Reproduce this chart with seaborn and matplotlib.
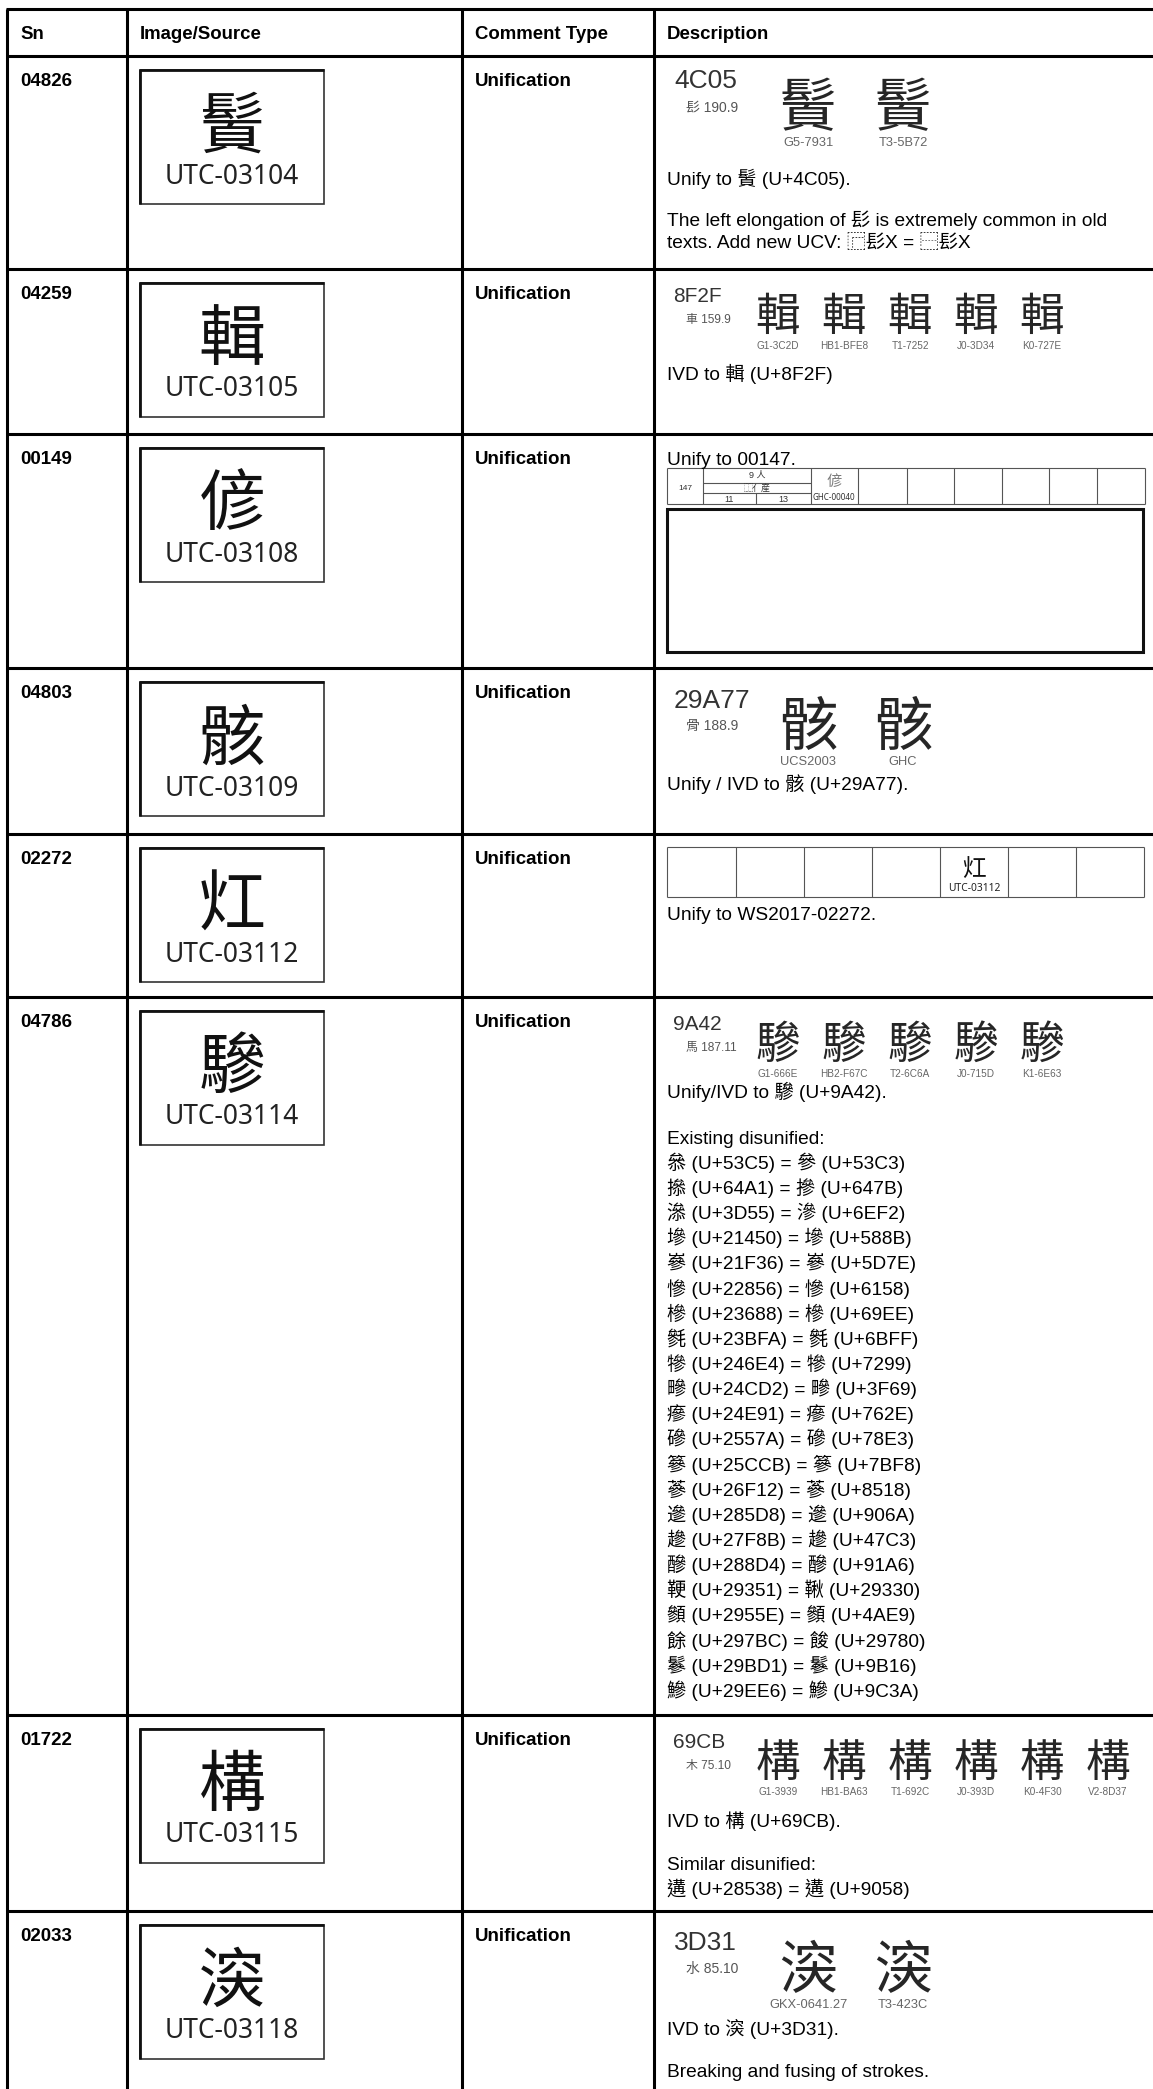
import matplotlib
matplotlib.use("Agg")
import matplotlib.pyplot as plt
from matplotlib import font_manager
from matplotlib.patches import Rectangle
import seaborn as sns
from fontTools.ttLib import TTFont

# --------- Datos de la tabla ---------
headers = ["Sn", "Image/Source", "Comment Type", "Description"]
sn = ["04826", "04259", "00149", "04803", "02272", "04786", "01722", "02033"]
utc_ids = ["UTC-03104", "UTC-03105", "UTC-03108", "UTC-03109",
           "UTC-03112", "UTC-03114", "UTC-03115", "UTC-03118"]
# closest encoded glyph for each submitted image
utc_chars = [0x4C05, 0x8F2F, 0x5050, 0x29A77, 0x7074, 0x9A42, 0x69CB, 0x3D31]
comment_type = ["Unification"] * 8

# evidence blocks (code chart excerpts) in the description column
ev_rows = [0, 1, 3, 5, 6, 7]
ev_codes = [0x4C05, 0x8F2F, 0x29A77, 0x9A42, 0x69CB, 0x3D31]
ev_radicals = ["髟 190.9", "車 159.9", "骨 188.9", "馬 187.11", "木 75.10", "水 85.10"]
ev_sources = [
    ["G5-7931", "T3-5B72"],
    ["G1-3C2D", "HB1-BFE8", "T1-7252", "J0-3D34", "K0-727E"],
    ["UCS2003", "GHC"],
    ["G1-666E", "HB2-F67C", "T2-6C6A", "J0-715D", "K1-6E63"],
    ["G1-3939", "HB1-BA63", "T1-692C", "J0-393D", "K0-4F30", "V2-8D37"],
    ["GKX-0641.27", "T3-423C"],
]

disunified_left = [0x53C5, 0x64A1, 0x3D55, 0x21450, 0x21F36, 0x22856, 0x23688, 0x23BFA,
                   0x246E4, 0x24CD2, 0x24E91, 0x2557A, 0x25CCB, 0x26F12, 0x285D8, 0x27F8B,
                   0x288D4, 0x29351, 0x2955E, 0x297BC, 0x29BD1, 0x29EE6]
disunified_right = [0x53C3, 0x647B, 0x6EF2, 0x588B, 0x5D7E, 0x6158, 0x69EE, 0x6BFF,
                    0x7299, 0x3F69, 0x762E, 0x78E3, 0x7BF8, 0x8518, 0x906A, 0x47C3,
                    0x91A6, 0x29330, 0x4AE9, 0x29780, 0x9B16, 0x9C3A]
similar_left, similar_right = [0x28538], [0x9058]

# row 3 (00149) and row 5 (02272) small grids
r3_cells = ["147", "9 人", "⿰亻産", "11", "13", "GHC-00040"]
r3_glyph = 0x5050
r5_glyph = 0x7074
r5_label = "UTC-03112"

# --------- Fuentes ---------
sns.set_theme(style="white")
LATIN = "Liberation Sans"
CJK = {"G": "Noto Sans CJK SC", "H": "Noto Sans CJK TC", "T": "Noto Sans CJK TC",
       "J": "Noto Sans CJK JP", "K": "Noto Sans CJK KR", "V": "Noto Sans CJK TC",
       "U": "Noto Sans CJK SC"}
BODY = [LATIN, "Noto Sans CJK TC", "DejaVu Sans"]
plt.rcParams["font.family"] = BODY
names = {f.name for f in font_manager.fontManager.ttflist}
NARROW = "Liberation Sans Narrow" if "Liberation Sans Narrow" in names else LATIN
NARROW_K = 1.0 if NARROW != LATIN else 0.84


def cmap_of(family):
    path = font_manager.findfont(font_manager.FontProperties(family=family))
    try:
        font = TTFont(path, fontNumber=0, lazy=True)
    except Exception:
        font = TTFont(path, lazy=True)
    return set(font.getBestCmap())


covered = cmap_of("Noto Sans CJK TC") | cmap_of(LATIN)
# look-alike stand-ins for glyphs the installed fonts lack
ALT = {0x29A77: 0x9AB8, 0x2FF8: 0x25A1, 0x2FF1: 0x25A1, 0x2FF0: 0x25A1,
       0x29351: 0x9795, 0x29330: 0x97A6, 0x297BC: 0x9918, 0x29780: 0x9915}


def glyph(cp, *alts):
    for c in (cp,) + ((ALT[cp],) if cp in ALT else ()) + alts:
        if c in covered:
            return chr(c)
    return "〓"


def fix(s):
    return "".join(ch if (ord(ch) in covered or ch in " ") else glyph(ord(ch)) for ch in s)


def pair_line(a, b):
    return f"{glyph(a, b)} (U+{a:X}) = {glyph(b, a)} (U+{b:X})"


desc_text = [
    [f"Unify to {chr(0x4C05)} (U+4C05).",
     "The left elongation of 髟 is extremely common in old",
     f"texts. Add new UCV: {chr(0x2FF8)}髟X = {chr(0x2FF1)}髟X"],
    ["IVD to 輯 (U+8F2F)"],
    ["Unify to 00147."],
    [f"Unify / IVD to {chr(0x29A77)} (U+29A77)."],
    ["Unify to WS2017-02272."],
    ["Unify/IVD to 驂 (U+9A42).", "Existing disunified:"]
    + [pair_line(a, b) for a, b in zip(disunified_left, disunified_right)],
    ["IVD to 構 (U+69CB).", "Similar disunified:"]
    + [pair_line(a, b) for a, b in zip(similar_left, similar_right)],
    [f"IVD to {chr(0x3D31)} (U+3D31).", "Breaking and fusing of strokes."],
]

# --------- Layout (pixels) ---------
W, H, DPI = 1153, 2089, 100
col_x = [7, 127, 462, 654]
table_top, header_bottom = 9, 56
row_tops = [56, 269, 434, 668, 834, 997, 1715, 1911]
desc_dy = [[122, 163, 185], [104], [24], [115], [79],
           [94, 140] + [165 + i * 25.14 for i in range(22)],
           [105, 148, 173], [117, 159]]
EV_BIG = dict(code_x=674, code_dy=30, code_size=19, rad_x=686, rad_dy=57, rad_size=10,
              x0=808, dx=95, glyph_dy=55, glyph_size=42, label_dy=92, label_size=11)
EV_SMALL = dict(code_x=673, code_dy=26, code_size=15, rad_x=686, rad_dy=50, rad_size=8.6,
                x0=778, dx=66, glyph_dy=44, glyph_size=32, label_dy=76, label_size=8.6)
EV_ROW_DY = {0: -7}

fig = plt.figure(figsize=(W / DPI, H / DPI), dpi=DPI)
ax = fig.add_axes([0, 0, 1, 1])
ax.set_xlim(0, W)
ax.set_ylim(H, 0)
ax.axis("off")


def put(x, yc, s, size, fams=None, ha="left", k=0.36, **kw):
    em = size * DPI / 72
    ax.text(x, yc + k * em, fix(s), fontsize=size, ha=ha, va="baseline",
            family=fams or BODY, **kw)


def evidence(i, top):
    lay = EV_BIG if len(ev_sources[i]) <= 2 else EV_SMALL
    put(lay["code_x"], top + lay["code_dy"], f"{ev_codes[i]:X}", lay["code_size"], color="#333333")
    put(lay["rad_x"], top + lay["rad_dy"], ev_radicals[i], lay["rad_size"], color="#555555")
    ch = glyph(ev_codes[i])
    for j, src in enumerate(ev_sources[i]):
        cx = lay["x0"] + j * lay["dx"]
        put(cx, top + lay["glyph_dy"], ch, lay["glyph_size"], fams=[CJK[src[0]]],
            ha="center", k=0.38, color="#262626")
        put(cx, top + lay["label_dy"], src, lay["label_size"] * NARROW_K, fams=[NARROW],
            ha="center", color="#666666")


# grid
GRID = dict(color="black", lw=2.2)
ax.vlines(col_x, table_top, H, **GRID)
ax.hlines([table_top, header_bottom] + row_tops[1:], col_x[0] - 1, W, **GRID)

for x, h in zip(col_x, headers):
    put(x + 13, 32, h, 13.4, weight="bold", color="black")

for r, top in enumerate(row_tops):
    put(20, top + 23, sn[r], 13.5, weight="bold", color="black")
    put(475, top + 23, comment_type[r], 13.5, weight="bold", color="black")
    # image box: heavier top/left edge like the scanned frames
    ax.add_patch(Rectangle((140, top + 14), 184, 134, fill=False, ec="#333333", lw=1.2))
    ax.plot([140, 140, 324], [top + 148, top + 14, top + 14], color="#111111", lw=2.0,
            solid_capstyle="butt")
    put(232, top + 66, glyph(utc_chars[r]), 48, fams=["Noto Sans CJK TC"], ha="center",
        k=0.38, color="#111111")
    put(232, top + 118, utc_ids[r], 19, fams=["Noto Sans"], ha="center", color="#222222")
    for s, dy in zip(desc_text[r], desc_dy[r]):
        put(667, top + dy, s, 13.8, color="black")

for i, r in enumerate(ev_rows):
    evidence(i, row_tops[r] + EV_ROW_DY.get(r, 0))

# row 3: radical-stroke grid and empty frame
t3 = row_tops[2]
THIN = dict(color="#555555", lw=0.8)
xs3 = [667, 703, 811, 858, 907, 954, 1002, 1049, 1097, 1145]
ax.vlines(xs3, t3 + 34, t3 + 70, **THIN)
ax.hlines([t3 + 34, t3 + 70], xs3[0], xs3[-1], **THIN)
ax.hlines([t3 + 49, t3 + 59], xs3[1], xs3[2], **THIN)
ax.vlines([756], t3 + 59, t3 + 70, **THIN)
put(685, t3 + 53, r3_cells[0], 6, ha="center", color="#333333")
put(757, t3 + 41, r3_cells[1], 6.5, ha="center", color="#333333")
put(757, t3 + 54, r3_cells[2], 6.5, ha="center", color="#333333")
put(729, t3 + 65, r3_cells[3], 6.5, ha="center", color="#333333")
put(783, t3 + 65, r3_cells[4], 6.5, ha="center", color="#333333")
put(834, t3 + 46, glyph(r3_glyph), 11, fams=["Noto Sans CJK TC"], ha="center", k=0.38,
    color="#777777")
put(834, t3 + 63, r3_cells[5], 5.8, fams=["Noto Sans"], ha="center", color="#333333")
ax.add_patch(Rectangle((667, t3 + 75), 476, 143, fill=False, ec="#111111", lw=2.2))

# row 5: source grid
t5 = row_tops[4]
xs5 = [667, 736, 804, 872, 940, 1008, 1076, 1144]
ax.vlines(xs5, t5 + 13, t5 + 63, **THIN)
ax.hlines([t5 + 13, t5 + 63], xs5[0], xs5[-1], **THIN)
put(974, t5 + 33, glyph(r5_glyph), 17, fams=["Noto Sans CJK TC"], ha="center", k=0.38,
    color="#111111")
put(974, t5 + 53, r5_label, 7.4, fams=["Noto Sans"], ha="center", color="#222222")

fig.savefig("out.png", dpi=DPI)
